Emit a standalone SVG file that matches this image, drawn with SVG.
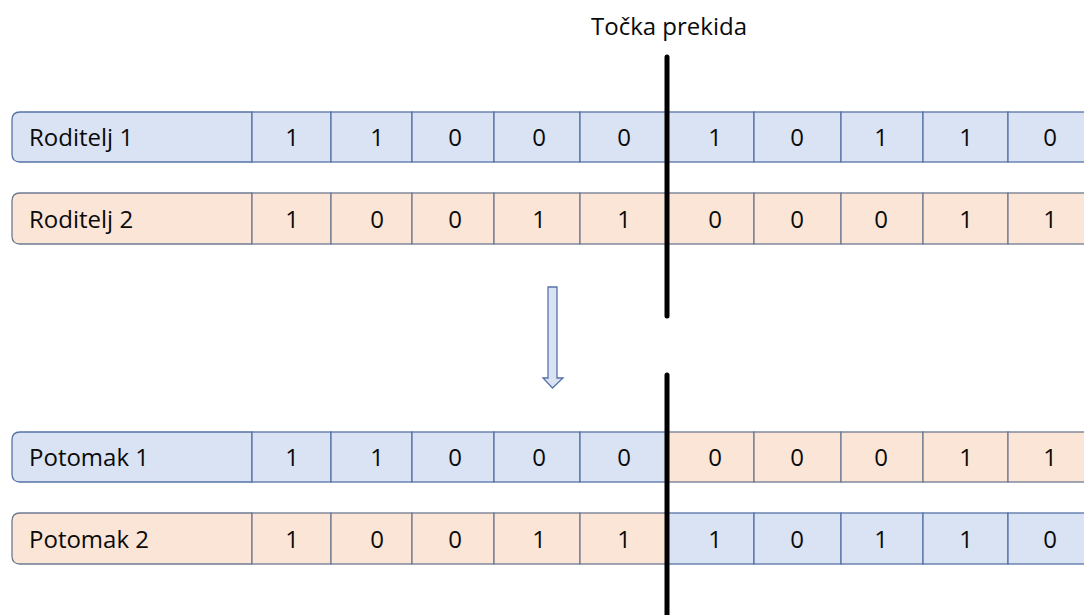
<svg xmlns="http://www.w3.org/2000/svg" width="1084" height="615" viewBox="0 0 1084 615">
<style>
.b{fill:#dae3f3;stroke:#5673a6;stroke-width:1.3}
.o{fill:#fbe5d6;stroke:#6f7a92;stroke-width:1.3}
text{font-family:"Open Sans","Liberation Sans",sans-serif;font-size:24px;fill:#0a0a0a}
.c{text-anchor:middle}
.cut{stroke:#000;stroke-width:5;stroke-linecap:round;fill:none}
</style>
<rect width="1084" height="615" fill="#fff"/>

<g id="roditelj1">
<path class="b" d="M252,112 H20 Q12,112 12,120 V154 Q12,162 20,162 H252 Z"/>
<rect class="b" x="252" y="112" width="79" height="50"/>
<rect class="b" x="331" y="112" width="81" height="50"/>
<rect class="b" x="412" y="112" width="82" height="50"/>
<rect class="b" x="494" y="112" width="86" height="50"/>
<rect class="b" x="580" y="112" width="87" height="50"/>
<rect class="b" x="667" y="112" width="87" height="50"/>
<rect class="b" x="754" y="112" width="87" height="50"/>
<rect class="b" x="841" y="112" width="82" height="50"/>
<rect class="b" x="923" y="112" width="85" height="50"/>
<rect class="b" x="1008" y="112" width="90" height="50"/>
<text x="29" y="146">Roditelj 1</text>
<text class="c" x="292" y="146">1</text><text class="c" x="377" y="146">1</text><text class="c" x="455" y="146">0</text><text class="c" x="539" y="146">0</text><text class="c" x="624" y="146">0</text>
<text class="c" x="715" y="146">1</text><text class="c" x="797" y="146">0</text><text class="c" x="881" y="146">1</text><text class="c" x="966" y="146">1</text><text class="c" x="1050" y="146">0</text>
</g>

<g id="roditelj2">
<path class="o" d="M252,193 H20 Q12,193 12,201 V236 Q12,244 20,244 H252 Z"/>
<rect class="o" x="252" y="193" width="79" height="51"/>
<rect class="o" x="331" y="193" width="81" height="51"/>
<rect class="o" x="412" y="193" width="82" height="51"/>
<rect class="o" x="494" y="193" width="86" height="51"/>
<rect class="o" x="580" y="193" width="87" height="51"/>
<rect class="o" x="667" y="193" width="87" height="51"/>
<rect class="o" x="754" y="193" width="87" height="51"/>
<rect class="o" x="841" y="193" width="82" height="51"/>
<rect class="o" x="923" y="193" width="85" height="51"/>
<rect class="o" x="1008" y="193" width="90" height="51"/>
<text x="29" y="228">Roditelj 2</text>
<text class="c" x="292" y="228">1</text><text class="c" x="377" y="228">0</text><text class="c" x="455" y="228">0</text><text class="c" x="539" y="228">1</text><text class="c" x="624" y="228">1</text>
<text class="c" x="715" y="228">0</text><text class="c" x="797" y="228">0</text><text class="c" x="881" y="228">0</text><text class="c" x="966" y="228">1</text><text class="c" x="1050" y="228">1</text>
</g>

<g id="potomak1">
<path class="b" d="M252,432 H20 Q12,432 12,440 V474 Q12,482 20,482 H252 Z"/>
<rect class="b" x="252" y="432" width="79" height="50"/>
<rect class="b" x="331" y="432" width="81" height="50"/>
<rect class="b" x="412" y="432" width="82" height="50"/>
<rect class="b" x="494" y="432" width="86" height="50"/>
<rect class="b" x="580" y="432" width="87" height="50"/>
<rect class="o" x="667" y="432" width="87" height="50"/>
<rect class="o" x="754" y="432" width="87" height="50"/>
<rect class="o" x="841" y="432" width="82" height="50"/>
<rect class="o" x="923" y="432" width="85" height="50"/>
<rect class="o" x="1008" y="432" width="90" height="50"/>
<text x="29" y="466">Potomak 1</text>
<text class="c" x="292" y="466">1</text><text class="c" x="377" y="466">1</text><text class="c" x="455" y="466">0</text><text class="c" x="539" y="466">0</text><text class="c" x="624" y="466">0</text>
<text class="c" x="715" y="466">0</text><text class="c" x="797" y="466">0</text><text class="c" x="881" y="466">0</text><text class="c" x="966" y="466">1</text><text class="c" x="1050" y="466">1</text>
</g>

<g id="potomak2">
<path class="o" d="M252,513 H20 Q12,513 12,521 V556 Q12,564 20,564 H252 Z"/>
<rect class="o" x="252" y="513" width="79" height="51"/>
<rect class="o" x="331" y="513" width="81" height="51"/>
<rect class="o" x="412" y="513" width="82" height="51"/>
<rect class="o" x="494" y="513" width="86" height="51"/>
<rect class="o" x="580" y="513" width="87" height="51"/>
<rect class="b" x="667" y="513" width="87" height="51"/>
<rect class="b" x="754" y="513" width="87" height="51"/>
<rect class="b" x="841" y="513" width="82" height="51"/>
<rect class="b" x="923" y="513" width="85" height="51"/>
<rect class="b" x="1008" y="513" width="90" height="51"/>
<text x="29" y="548">Potomak 2</text>
<text class="c" x="292" y="548">1</text><text class="c" x="377" y="548">0</text><text class="c" x="455" y="548">0</text><text class="c" x="539" y="548">1</text><text class="c" x="624" y="548">1</text>
<text class="c" x="715" y="548">1</text><text class="c" x="797" y="548">0</text><text class="c" x="881" y="548">1</text><text class="c" x="966" y="548">1</text><text class="c" x="1050" y="548">0</text>
</g>

<g id="tocka-prekida">
<text x="591" y="35">Točka prekida</text>
<line class="cut" x1="667" y1="57" x2="667" y2="316"/>
<line class="cut" x1="667" y1="375" x2="667" y2="620"/>
</g>

<g id="connectors">
<path d="M548,287 H557 V378 H563 L552.5,388 L543,378 H548 Z" fill="#dae3f3" stroke="#5673a6" stroke-width="1.3" stroke-linejoin="miter"/>
</g>
</svg>
